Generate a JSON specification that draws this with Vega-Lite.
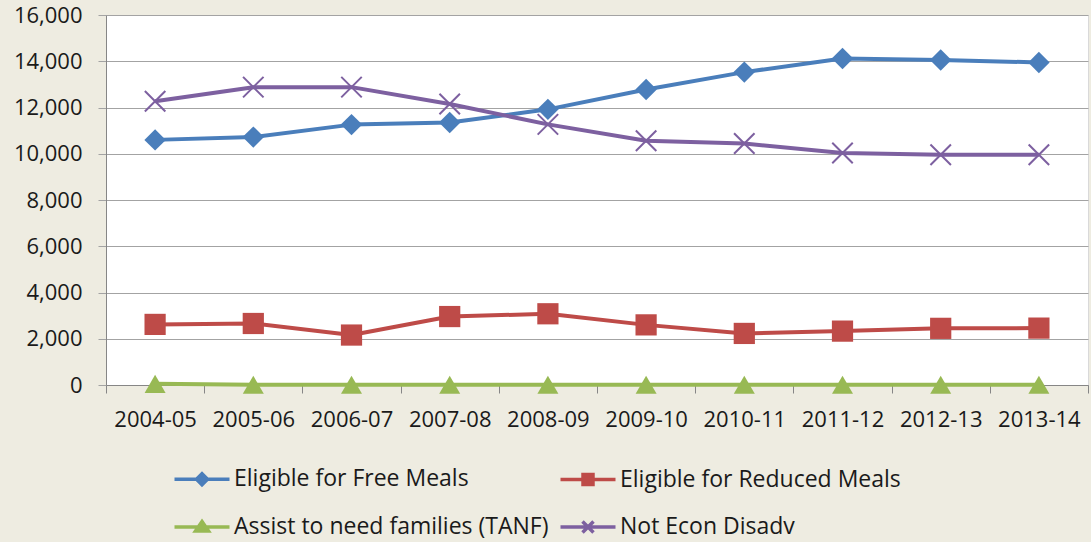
{
  "$schema": "https://vega.github.io/schema/vega-lite/v6.json",
  "width": 982,
  "height": 370,
  "autosize": "none",
  "padding": {"left": 106, "top": 15, "right": 3, "bottom": 157},
  "background": "#eeece1",
  "config": {
    "view": {"fill": "#ffffff", "stroke": "#d9d9d9"},
    "font": "Open Sans"
  },
  "data": {
    "values": [
      {"year": "2004-05", "series": "Eligible for Free Meals", "count": 10600},
      {"year": "2005-06", "series": "Eligible for Free Meals", "count": 10720},
      {"year": "2006-07", "series": "Eligible for Free Meals", "count": 11260},
      {"year": "2007-08", "series": "Eligible for Free Meals", "count": 11350},
      {"year": "2008-09", "series": "Eligible for Free Meals", "count": 11920},
      {"year": "2009-10", "series": "Eligible for Free Meals", "count": 12780},
      {"year": "2010-11", "series": "Eligible for Free Meals", "count": 13530},
      {"year": "2011-12", "series": "Eligible for Free Meals", "count": 14120},
      {"year": "2012-13", "series": "Eligible for Free Meals", "count": 14050},
      {"year": "2013-14", "series": "Eligible for Free Meals", "count": 13950},
      {"year": "2004-05", "series": "Eligible for Reduced Meals", "count": 2620},
      {"year": "2005-06", "series": "Eligible for Reduced Meals", "count": 2660},
      {"year": "2006-07", "series": "Eligible for Reduced Meals", "count": 2160},
      {"year": "2007-08", "series": "Eligible for Reduced Meals", "count": 2960},
      {"year": "2008-09", "series": "Eligible for Reduced Meals", "count": 3080},
      {"year": "2009-10", "series": "Eligible for Reduced Meals", "count": 2600},
      {"year": "2010-11", "series": "Eligible for Reduced Meals", "count": 2230},
      {"year": "2011-12", "series": "Eligible for Reduced Meals", "count": 2330},
      {"year": "2012-13", "series": "Eligible for Reduced Meals", "count": 2450},
      {"year": "2013-14", "series": "Eligible for Reduced Meals", "count": 2460},
      {"year": "2004-05", "series": "Assist to need families (TANF)", "count": 50},
      {"year": "2005-06", "series": "Assist to need families (TANF)", "count": 10},
      {"year": "2006-07", "series": "Assist to need families (TANF)", "count": 10},
      {"year": "2007-08", "series": "Assist to need families (TANF)", "count": 10},
      {"year": "2008-09", "series": "Assist to need families (TANF)", "count": 10},
      {"year": "2009-10", "series": "Assist to need families (TANF)", "count": 10},
      {"year": "2010-11", "series": "Assist to need families (TANF)", "count": 10},
      {"year": "2011-12", "series": "Assist to need families (TANF)", "count": 10},
      {"year": "2012-13", "series": "Assist to need families (TANF)", "count": 10},
      {"year": "2013-14", "series": "Assist to need families (TANF)", "count": 10},
      {"year": "2004-05", "series": "Not Econ Disadv", "count": 12270},
      {"year": "2005-06", "series": "Not Econ Disadv", "count": 12880},
      {"year": "2006-07", "series": "Not Econ Disadv", "count": 12880},
      {"year": "2007-08", "series": "Not Econ Disadv", "count": 12150},
      {"year": "2008-09", "series": "Not Econ Disadv", "count": 11270},
      {"year": "2009-10", "series": "Not Econ Disadv", "count": 10560},
      {"year": "2010-11", "series": "Not Econ Disadv", "count": 10440},
      {"year": "2011-12", "series": "Not Econ Disadv", "count": 10030},
      {"year": "2012-13", "series": "Not Econ Disadv", "count": 9960},
      {"year": "2013-14", "series": "Not Econ Disadv", "count": 9960}
    ]
  },
  "encoding": {
    "x": {
      "field": "year",
      "type": "nominal",
      "bandPosition": 0.5,
      "scale": {"type": "band", "paddingInner": 0, "paddingOuter": 0},
      "axis": {
        "title": null,
        "labelAngle": 0,
        "tickBand": "extent",
        "grid": false,
        "domainColor": "#868686",
        "tickColor": "#868686",
        "tickSize": 8,
        "labelPadding": 16,
        "labelFontSize": 22,
        "labelColor": "#1a1a1a",
        "labelFont": "Open Sans"
      }
    },
    "y": {
      "field": "count",
      "type": "quantitative",
      "scale": {"domain": [0, 16000], "nice": false},
      "axis": {
        "title": null,
        "values": [0, 2000, 4000, 6000, 8000, 10000, 12000, 14000, 16000],
        "format": ",.0f",
        "grid": true,
        "gridColor": "#a3a3a3",
        "domainColor": "#868686",
        "tickColor": "#a3a3a3",
        "tickSize": 8,
        "labelPadding": 16,
        "labelFontSize": 22,
        "labelColor": "#1a1a1a",
        "labelFont": "Open Sans"
      }
    },
    "color": {
      "field": "series",
      "type": "nominal",
      "scale": {
        "domain": ["Eligible for Free Meals", "Eligible for Reduced Meals", "Assist to need families (TANF)", "Not Econ Disadv"],
        "range": ["#4a7ebb", "#be4b48", "#98b954", "#7d60a0"]
      },
      "legend": {
        "title": null,
        "orient": "none",
        "direction": "horizontal",
        "legendX": 69,
        "legendY": 452,
        "columns": 2,
        "columnPadding": 4,
        "rowPadding": 22,
        "labelFontSize": 23,
        "labelFont": "Open Sans",
        "labelColor": "#1a1a1a",
        "labelLimit": 500,
        "labelOffset": 35,
        "symbolSize": 400,
        "symbolStrokeWidth": 3.5,
        "symbolOpacity": 1,
        "encode": {
          "symbols": {
            "update": {
              "shape": {
                "signal": "datum.value === 'Eligible for Free Meals' ? 'M-1.25,0H4.25M1.5,-0.55L2.05,0L1.5,0.55L0.95,0Z' : datum.value === 'Eligible for Reduced Meals' ? 'M-1.25,0H4.25M1,-0.5H2V0.5H1Z' : datum.value === 'Assist to need families (TANF)' ? 'M-1.25,0H4.25M1.5,-0.55L2.15,0.4H0.85Z' : 'M-1.25,0H4.25M0.95,-0.55L2.05,0.55M0.95,0.55L2.05,-0.55'"
              },
              "fill": {"scale": "color", "field": "value"},
              "stroke": {"scale": "color", "field": "value"},
              "strokeWidth": {"value": 3.5},
              "opacity": {"value": 1},
              "fillOpacity": {"value": 1}
            }
          }
        }
      }
    }
  },
  "layer": [
    {
      "mark": {"type": "line", "strokeWidth": 4, "strokeJoin": "round"}
    },
    {
      "transform": [{"filter": "datum.series !== 'Not Econ Disadv'"}],
      "mark": {"type": "point", "filled": true, "opacity": 1},
      "encoding": {
        "shape": {
          "field": "series",
          "type": "nominal",
          "scale": {
            "domain": ["Eligible for Free Meals", "Eligible for Reduced Meals", "Assist to need families (TANF)"],
            "range": ["diamond", "square", "triangle-up"]
          },
          "legend": null
        },
        "size": {
          "field": "series",
          "type": "nominal",
          "scale": {
            "domain": ["Eligible for Free Meals", "Eligible for Reduced Meals", "Assist to need families (TANF)"],
            "range": [460, 441, 620]
          },
          "legend": null
        }
      }
    },
    {
      "transform": [{"filter": "datum.series === 'Not Econ Disadv'"}],
      "mark": {
        "type": "point",
        "filled": false,
        "shape": "M-1,-1L1,1M-1,1L1,-1",
        "size": 420,
        "strokeWidth": 2,
        "opacity": 1
      }
    }
  ]
}
